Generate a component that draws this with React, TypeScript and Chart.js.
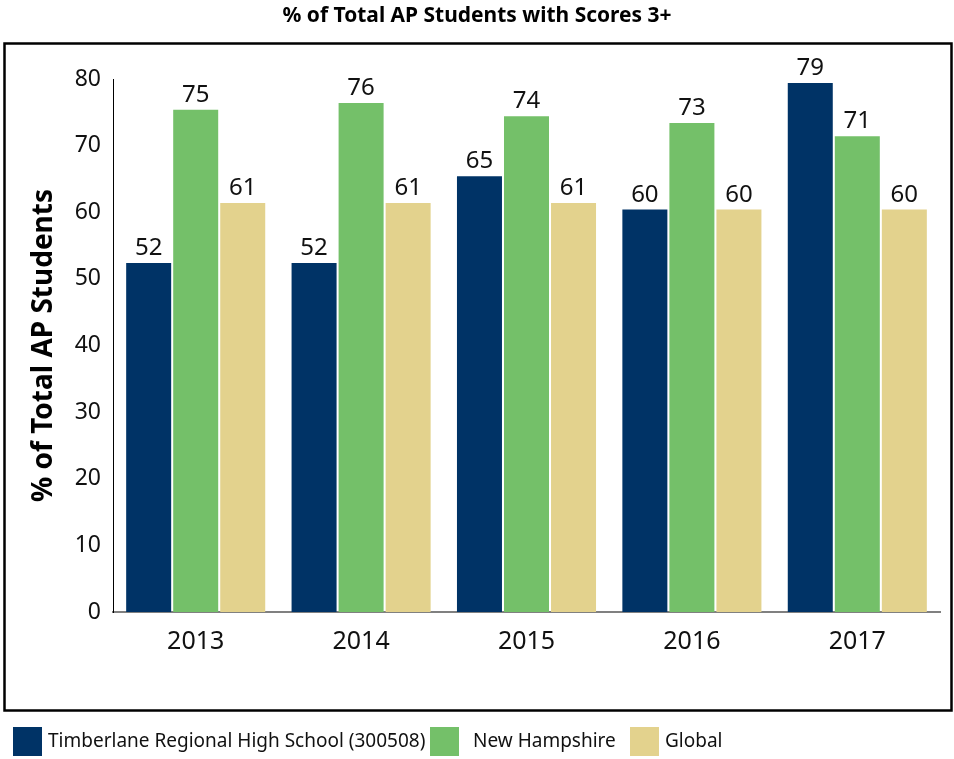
import React, { useEffect, useRef } from "react";
import { Chart, registerables } from "chart.js";

Chart.register(...registerables);

const chartTitle = "% of Total AP Students with Scores 3+";
const yAxisTitle = "% of Total AP Students";
const categories = ["2013", "2014", "2015", "2016", "2017"];
const seriesNames = ["Timberlane Regional High School (300508)", "New Hampshire", "Global"];
const timberlaneValues = [52.4, 52.4, 65.4, 60.4, 79.4];
const newHampshireValues = [75.4, 76.4, 74.4, 73.4, 71.4];
const globalValues = [61.4, 61.4, 61.4, 60.4, 60.4];
const yMin = 0;
const yMax = 80;
const yStep = 10;
const seriesColors = ["#003366", "#74C069", "#E3D28D"];

const FONT = '"Noto Sans", "Open Sans", sans-serif';

const decorPlugin = {
  id: "decor",
  afterDraw(chart: any) {
    const ctx = chart.ctx as CanvasRenderingContext2D;
    ctx.save();
    // frame
    ctx.strokeStyle = "#000";
    ctx.lineWidth = 2.5;
    ctx.strokeRect(4.5, 43.5, 947, 667);
    // title (condensed)
    ctx.font = `bold 21px ${FONT}`;
    ctx.fillStyle = "#000";
    ctx.textBaseline = "middle";
    ctx.textAlign = "center";
    const w = ctx.measureText(chartTitle).width;
    const sx = Math.min(1, 389 / w);
    ctx.translate(477, 16);
    ctx.scale(sx, 1);
    ctx.fillText(chartTitle, 0, 0);
    ctx.restore();

    // legend
    ctx.save();
    const boxX = [13, 430, 630];
    const textX = [48, 473, 665];
    ctx.font = `19px ${FONT}`;
    ctx.textBaseline = "middle";
    ctx.textAlign = "left";
    chart.data.datasets.forEach((ds: any, i: number) => {
      ctx.fillStyle = ds.backgroundColor;
      ctx.fillRect(boxX[i], 727, 29, 29);
      ctx.fillStyle = "#111";
      ctx.fillText(ds.label, textX[i], 742);
    });
    ctx.restore();
  },
  afterDatasetsDraw(chart: any) {
    const ctx = chart.ctx as CanvasRenderingContext2D;
    ctx.save();
    ctx.font = `24px ${FONT}`;
    ctx.fillStyle = "#111";
    ctx.textAlign = "center";
    ctx.textBaseline = "alphabetic";
    chart.data.datasets.forEach((ds: any, i: number) => {
      const meta = chart.getDatasetMeta(i);
      meta.data.forEach((el: any, j: number) => {
        ctx.fillText(String(Math.round(ds.data[j])), el.x, el.y - 8);
      });
    });
    ctx.restore();
  },
};

export default function App() {
  const ref = useRef<HTMLCanvasElement | null>(null);
  useEffect(() => {
    if (!ref.current) return;
    const seriesValues = [timberlaneValues, newHampshireValues, globalValues];
    const chart = new Chart(ref.current, {
      type: "bar",
      data: {
        labels: categories,
        datasets: seriesNames.map((name, i) => ({
          label: name,
          data: seriesValues[i],
          backgroundColor: seriesColors[i],
          borderWidth: 0,
          categoryPercentage: 0.853,
          barPercentage: 0.957,
        })),
      },
      options: {
        animation: false,
        responsive: false,
        maintainAspectRatio: false,
        layout: { padding: { left: 0, right: 14, top: 79, bottom: 87 } },
        plugins: {
          legend: { display: false },
          title: { display: false },
          tooltip: { enabled: false },
        },
        scales: {
          x: {
            grid: { display: false, drawTicks: false },
            border: { display: true, color: "#808080", width: 2 },
            ticks: { font: { family: FONT, size: 25 }, color: "#111", padding: 15 },
            afterFit: (s: any) => {
              s.height = 60;
            },
          },
          y: {
            min: yMin,
            max: yMax,
            ticks: { stepSize: yStep, font: { family: FONT, size: 23 }, color: "#111", padding: 12 },
            grid: { display: false, drawTicks: false },
            border: { display: true, color: "#000", width: 1 },
            title: {
              display: true,
              text: yAxisTitle,
              font: { family: FONT, size: 28, weight: "bold" },
              color: "#000",
              padding: { top: 27, bottom: 0 },
            },
            afterFit: (s: any) => {
              s.width = 113;
            },
          },
        },
      },
      plugins: [decorPlugin],
    } as any);
    return () => chart.destroy();
  }, []);
  return (
    <div style={{ position: "absolute", left: 0, top: 0, width: 954, height: 759, background: "#fff" }}>
      <canvas ref={ref} width={954} height={759} style={{ display: "block" }} />
    </div>
  );
}
